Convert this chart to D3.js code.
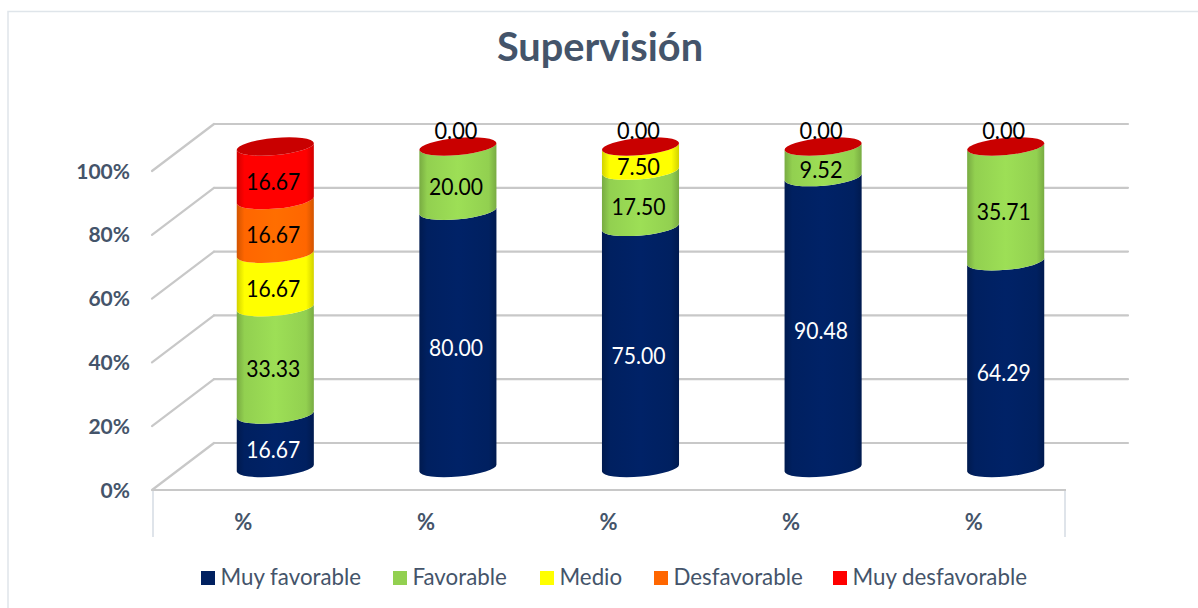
<!DOCTYPE html>
<html lang="es">
<head>
<meta charset="UTF-8">
<title>Supervisión</title>
<script src="https://d3js.org/d3.v7.min.js"></script>
<style>
  html, body { margin: 0; padding: 0; background: #fff; }
  svg { display: block; font-family: Lato, "Open Sans", sans-serif; }
</style>
</head>
<body>
<div id="chart"></div>
<script>
const groups = ['g1', 'g2', 'g3', 'g4', 'g5'];
const groupLabels = ['%', '%', '%', '%', '%'];
const seriesNames = ['Muy favorable', 'Favorable', 'Medio', 'Desfavorable', 'Muy desfavorable'];
const seriesColors = ['#002060', '#92d050', '#ffff00', '#ff6600', '#ff0000'];
const capColor = '#c90000';

const muyFavorable = [16.67, 80.00, 75.00, 90.48, 64.29];
const favorable = [33.33, 20.00, 17.50, 9.52, 35.71];
const medio = [16.67, 0, 7.50, 0, 0];
const desfavorable = [16.67, 0, 0, 0, 0];
const muyDesfavorable = [16.67, 0.00, 0.00, 0.00, 0.00];
const seriesValues = [muyFavorable, favorable, medio, desfavorable, muyDesfavorable];
const percentTicks = [0, 20, 40, 60, 80, 100];

const width = 1198, height = 608;
const depthX = 62, depthY = 47;
const textColor = '#44546a';
const gridColor = '#c8c8c8';

const svg = d3.select('#chart').append('svg')
  .attr('width', width)
  .attr('height', height);

// frame
svg.append('rect')
  .attr('x', 8).attr('y', 11.5)
  .attr('width', 1196).attr('height', 620)
  .attr('fill', '#fff').attr('stroke', '#dfe5ea').attr('stroke-width', 1.5);

const xFront = d3.scaleBand().domain(groups).range([152, 1065]);
const yFront = d3.scaleLinear().domain([0, 100]).range([490, 171]);
const yBar = d3.scaleLinear().domain([0, 100]).range([468, 146.5]);
const barX = g => xFront(g) + xFront.bandwidth() / 2 + 32;

// shading across the cylinder body
const defs = svg.append('defs');
seriesColors.forEach((c, i) => {
  const dark = d3.color(c).darker(0.55).formatHex();
  const light = d3.color(c).brighter(0.2).formatHex();
  const grad = defs.append('linearGradient').attr('id', 'body' + i);
  grad.append('stop').attr('offset', '0%').attr('stop-color', dark);
  grad.append('stop').attr('offset', '10%').attr('stop-color', c);
  grad.append('stop').attr('offset', '50%').attr('stop-color', light);
  grad.append('stop').attr('offset', '90%').attr('stop-color', c);
  grad.append('stop').attr('offset', '100%').attr('stop-color', dark);
});

// back wall gridlines and the diagonals on the side wall
const grid = svg.append('g')
  .attr('fill', 'none')
  .attr('stroke', gridColor)
  .attr('stroke-width', 2.2)
  .attr('stroke-linecap', 'round');
grid.selectAll('line.back').data(percentTicks).join('line')
  .attr('class', 'back')
  .attr('x1', 152 + depthX).attr('x2', 1128)
  .attr('y1', d => yFront(d) - depthY).attr('y2', d => yFront(d) - depthY);
grid.selectAll('line.side').data(percentTicks).join('line')
  .attr('class', 'side')
  .attr('x1', 152).attr('x2', 152 + depthX)
  .attr('y1', d => yFront(d)).attr('y2', d => yFront(d) - depthY);

// floor edge and its drop lines
svg.selectAll('line.drop').data([153, 1065]).join('line')
  .attr('class', 'drop')
  .attr('x1', d => d).attr('x2', d => d).attr('y1', 490).attr('y2', 537)
  .attr('stroke', '#dfe4ea').attr('stroke-width', 2);
svg.append('line')
  .attr('x1', 152).attr('x2', 1066).attr('y1', 490).attr('y2', 490)
  .attr('stroke', gridColor).attr('stroke-width', 2.2);

// y axis labels
svg.selectAll('text.tick').data(percentTicks).join('text')
  .attr('class', 'tick')
  .attr('x', 130)
  .attr('y', d => yFront(d) + 7.5)
  .attr('text-anchor', 'end')
  .attr('font-size', 21)
  .attr('font-weight', 700)
  .attr('fill', textColor)
  .text(d => d + '%');

// category labels
svg.selectAll('text.cat').data(groups).join('text')
  .attr('class', 'cat')
  .attr('x', g => xFront(g) + xFront.bandwidth() / 2)
  .attr('y', 530)
  .attr('text-anchor', 'middle')
  .attr('font-size', 22)
  .attr('font-weight', 700)
  .attr('fill', textColor)
  .text((g, i) => groupLabels[i]);

// tilted ellipse used for every ring of a cylinder
const rx = 38.7, ry = 8.6, tilt = -5.2;
const tiltRad = tilt * Math.PI / 180;
const edge = (cx, cy, side) => [cx + side * rx * Math.cos(tiltRad), cy + side * rx * Math.sin(tiltRad)];
const bodyPath = (cx, y0, y1) => {
  const [lx0, ly0] = edge(cx, y0, -1), [rx0, ry0] = edge(cx, y0, 1);
  const [lx1, ly1] = edge(cx, y1, -1), [rx1, ry1] = edge(cx, y1, 1);
  return `M${lx1},${ly1} A${rx},${ry} ${tilt} 0 0 ${rx1},${ry1} L${rx0},${ry0} A${rx},${ry} ${tilt} 0 1 ${lx0},${ly0} Z`;
};

const stacks = groups.map((g, gi) => {
  let base = 0;
  return seriesValues.map((vals, si) => {
    const seg = { g, si, value: vals[gi], y0: base, y1: base + vals[gi] };
    base = seg.y1;
    return seg;
  });
});

const bars = svg.selectAll('g.bar').data(stacks).join('g').attr('class', 'bar');
bars.selectAll('path.seg').data(d => d.filter(s => s.value > 0)).join('path')
  .attr('class', 'seg')
  .attr('d', s => bodyPath(barX(s.g), yBar(s.y0), yBar(s.y1)))
  .attr('fill', s => `url(#body${s.si})`);
bars.append('ellipse')
  .attr('cx', d => barX(d[0].g))
  .attr('cy', yBar(100))
  .attr('rx', rx).attr('ry', ry)
  .attr('transform', d => `rotate(${tilt} ${barX(d[0].g)} ${yBar(100)})`)
  .attr('fill', capColor);

// value labels; series with no share in a column are only labelled for the top one
const labelled = stacks.flat().filter(s => s.value > 0 || s.si === 4);
svg.selectAll('text.val').data(labelled).join('text')
  .attr('class', 'val')
  .attr('x', s => barX(s.g) - 2)
  .attr('y', s => s.value > 0 ? yBar((s.y0 + s.y1) / 2) + 16.5 : yBar(100) - 7.5)
  .attr('text-anchor', 'middle')
  .attr('font-size', 24)
  .attr('textLength', s => s.value.toFixed(2).length * 11 - 1)
  .attr('lengthAdjust', 'spacingAndGlyphs')
  .attr('fill', s => s.si === 0 ? '#fff' : '#000')
  .text(s => s.value.toFixed(2));

// title
svg.append('text')
  .attr('x', 600).attr('y', 61)
  .attr('text-anchor', 'middle')
  .attr('font-size', 39.7)
  .attr('font-weight', 700)
  .attr('fill', textColor)
  .text('Supervisión');

// legend
const legendX = [201, 393, 540, 654, 833];
const legend = svg.selectAll('g.legend').data(seriesNames).join('g')
  .attr('class', 'legend')
  .attr('transform', (d, i) => `translate(${legendX[i]},571)`);
legend.append('rect')
  .attr('width', 14).attr('height', 14)
  .attr('fill', (d, i) => seriesColors[i]);
legend.append('text')
  .attr('x', 19.5).attr('y', 13.5)
  .attr('font-size', 22.3)
  .attr('fill', textColor)
  .text(d => d);
</script>
</body>
</html>
